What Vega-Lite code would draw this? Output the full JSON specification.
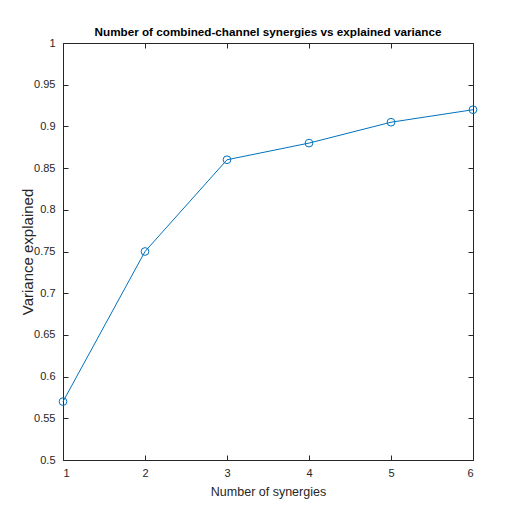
{
  "$schema": "https://vega.github.io/schema/vega-lite/v6.json",
  "autosize": "none",
  "width": 410,
  "height": 417,
  "padding": {"left": 63, "top": 43, "right": 34, "bottom": 52},
  "background": "white",
  "title": {
    "text": "Number of combined-channel synergies vs explained variance",
    "font": "Liberation Sans",
    "fontSize": 11.7,
    "fontWeight": "bold",
    "color": "#000000",
    "offset": -2,
    "anchor": "middle"
  },
  "config": {
    "view": {"stroke": null},
    "axis": {
      "grid": false,
      "domainColor": "#262626",
      "tickColor": "#262626",
      "labelColor": "#262626",
      "titleColor": "#262626",
      "labelFont": "Liberation Sans",
      "titleFont": "Liberation Sans",
      "labelFontSize": 11,
      "titleFontSize": 13,
      "titleFontWeight": "normal",
      "tickSize": -5,
      "domainWidth": 1,
      "tickWidth": 1
    }
  },
  "data": {
    "values": [
      {"n": 1, "v": 0.57},
      {"n": 2, "v": 0.75},
      {"n": 3, "v": 0.86},
      {"n": 4, "v": 0.88},
      {"n": 5, "v": 0.905},
      {"n": 6, "v": 0.92}
    ]
  },
  "resolve": {"axis": {"x": "independent", "y": "independent"}},
  "layer": [
    {
      "mark": {"type": "line", "color": "#0072BD", "strokeWidth": 1, "point": {"filled": false, "shape": "circle", "size": 60, "color": "#0072BD", "strokeWidth": 1}},
      "encoding": {
        "x": {"field": "n", "type": "quantitative", "scale": {"domain": [1, 6], "nice": false, "zero": false},
          "axis": {"orient": "bottom", "title": "Number of synergies", "titleFontSize": 12.5, "values": [1,2,3,4,5,6], "labelPadding": 12, "titlePadding": 7, "format": "d"}},
        "y": {"field": "v", "type": "quantitative", "scale": {"domain": [0.5, 1], "nice": false, "zero": false},
          "axis": {"orient": "left", "title": "Variance explained", "titleFontSize": 15, "values": [0.5,0.55,0.6,0.65,0.7,0.75,0.8,0.85,0.9,0.95,1], "format": "~g", "labelPadding": 13, "titlePadding": -2}}
      }
    },
    {
      "mark": {"type": "line", "opacity": 0},
      "encoding": {
        "x": {"field": "n", "type": "quantitative", "axis": {"orient": "top", "title": null, "labels": false, "values": [1,2,3,4,5,6]}},
        "y": {"field": "v", "type": "quantitative", "axis": {"orient": "right", "title": null, "labels": false, "values": [0.5,0.55,0.6,0.65,0.7,0.75,0.8,0.85,0.9,0.95,1]}}
      }
    }
  ]
}
